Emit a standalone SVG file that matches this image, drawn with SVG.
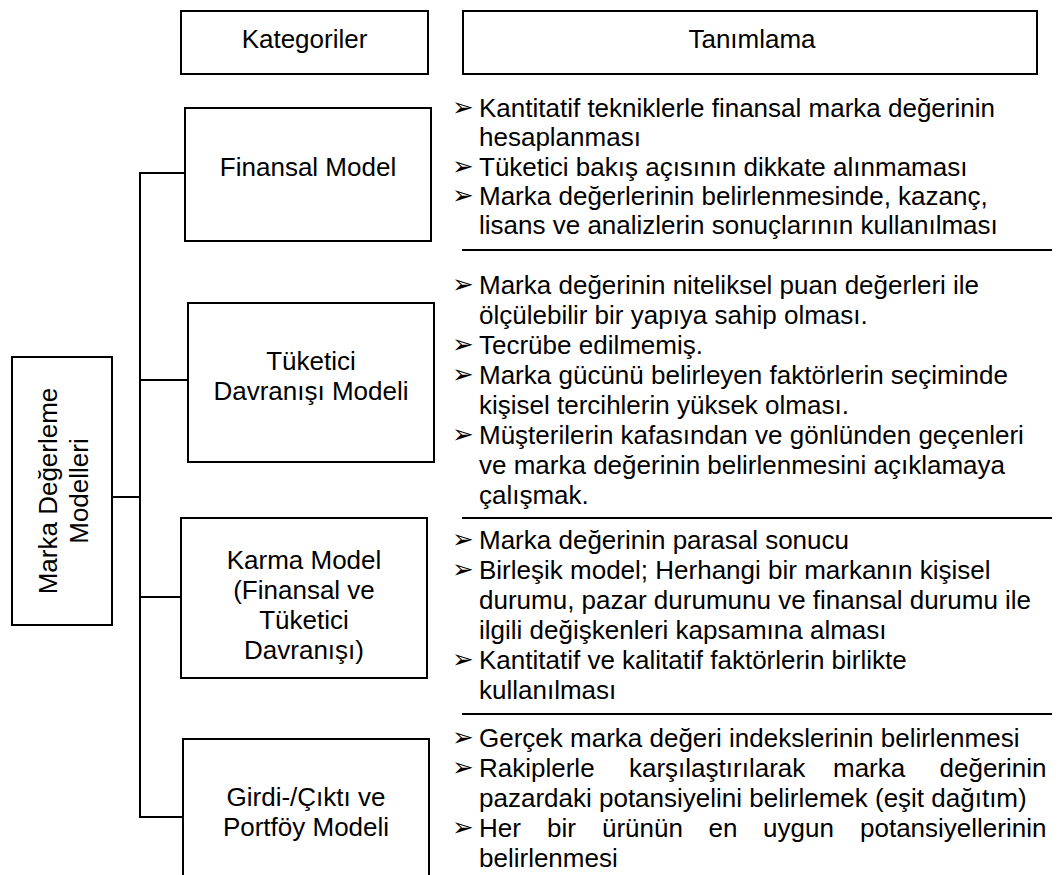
<svg xmlns="http://www.w3.org/2000/svg" width="1062" height="875" viewBox="0 0 1062 875">
  <style>
    .box { fill: #fff; stroke: #000; stroke-width: 2; }
    .wire { fill: none; stroke: #000; stroke-width: 2; }
    .rule { stroke: #000; stroke-width: 2.2; }
    text { font-family: "Liberation Sans", Arial, sans-serif; font-size: 26px; fill: #000; }
    .c { text-anchor: middle; }
    .b { font-family: "DejaVu Sans", sans-serif; font-size: 26px; }
  </style>
  <rect width="1062" height="875" fill="#fff"/>

  <!-- tree connectors -->
  <g id="connectors">
    <path class="wire" d="M112,497 H140"/>
    <path class="wire" d="M185,173 H140 V817 H183"/>
    <path class="wire" d="M140,380 H188"/>
    <path class="wire" d="M140,597 H181"/>
  </g>

  <!-- column headers -->
  <g id="header-kategoriler">
    <rect class="box" x="181" y="11" width="247" height="63"/>
    <text class="c" x="304.5" y="48">Kategoriler</text>
  </g>
  <g id="header-tanimlama">
    <rect class="box" x="463" y="11" width="574" height="63"/>
    <text class="c" x="752" y="48">Tanımlama</text>
  </g>

  <!-- root -->
  <g id="node-root">
    <rect class="box" x="12" y="357" width="100" height="268"/>
    <text class="c" transform="translate(57,491) rotate(-90)">Marka Değerleme</text>
    <text class="c" transform="translate(88,491) rotate(-90)">Modelleri</text>
  </g>

  <!-- categories -->
  <g id="node-finansal">
    <rect class="box" x="185" y="108" width="246" height="133"/>
    <text class="c" x="308" y="176">Finansal Model</text>
  </g>
  <g id="node-tuketici">
    <rect class="box" x="188" y="303" width="246" height="159"/>
    <text class="c" x="311" y="370">Tüketici</text>
    <text class="c" x="311" y="400">Davranışı Modeli</text>
  </g>
  <g id="node-karma">
    <rect class="box" x="181" y="518" width="246" height="160"/>
    <text class="c" x="304" y="569">Karma Model</text>
    <text class="c" x="304" y="599">(Finansal ve</text>
    <text class="c" x="304" y="629">Tüketici</text>
    <text class="c" x="304" y="659">Davranışı)</text>
  </g>
  <g id="node-girdi">
    <rect class="box" x="183" y="739" width="246" height="160"/>
    <text class="c" x="306" y="806">Girdi-/Çıktı ve</text>
    <text class="c" x="306" y="836">Portföy Modeli</text>
  </g>

  <!-- descriptions -->
  <g id="desc-finansal">
    <text class="b" x="452" y="116">➢</text>
    <text x="479" y="117">Kantitatif tekniklerle finansal marka değerinin</text>
    <text x="479" y="146">hesaplanması</text>
    <text class="b" x="452" y="175">➢</text>
    <text x="479" y="176">Tüketici bakış açısının dikkate alınmaması</text>
    <text class="b" x="452" y="204">➢</text>
    <text x="479" y="205">Marka değerlerinin belirlenmesinde, kazanç,</text>
    <text x="479" y="234">lisans ve analizlerin sonuçlarının kullanılması</text>
    <line class="rule" x1="462" y1="250" x2="1052" y2="250"/>
  </g>

  <g id="desc-tuketici">
    <text class="b" x="452" y="293">➢</text>
    <text x="479" y="294">Marka değerinin niteliksel puan değerleri ile</text>
    <text x="479" y="324">ölçülebilir bir yapıya sahip olması.</text>
    <text class="b" x="452" y="353">➢</text>
    <text x="479" y="354">Tecrübe edilmemiş.</text>
    <text class="b" x="452" y="383">➢</text>
    <text x="479" y="384">Marka gücünü belirleyen faktörlerin seçiminde</text>
    <text x="479" y="414">kişisel tercihlerin yüksek olması.</text>
    <text class="b" x="452" y="443">➢</text>
    <text x="479" y="444">Müşterilerin kafasından ve gönlünden geçenleri</text>
    <text x="479" y="474">ve marka değerinin belirlenmesini açıklamaya</text>
    <text x="479" y="504">çalışmak.</text>
    <line class="rule" x1="462" y1="518" x2="1052" y2="518"/>
  </g>

  <g id="desc-karma">
    <text class="b" x="452" y="548">➢</text>
    <text x="479" y="549">Marka değerinin parasal sonucu</text>
    <text class="b" x="452" y="578">➢</text>
    <text x="479" y="579">Birleşik model; Herhangi bir markanın kişisel</text>
    <text x="479" y="609">durumu, pazar durumunu ve finansal durumu ile</text>
    <text x="479" y="639">ilgili değişkenleri kapsamına alması</text>
    <text class="b" x="452" y="668">➢</text>
    <text x="479" y="669">Kantitatif ve kalitatif faktörlerin birlikte</text>
    <text x="479" y="699">kullanılması</text>
    <line class="rule" x1="462" y1="714" x2="1052" y2="714"/>
  </g>

  <g id="desc-girdi">
    <text class="b" x="452" y="746">➢</text>
    <text x="479" y="747">Gerçek marka değeri indekslerinin belirlenmesi</text>
    <text class="b" x="452" y="776">➢</text>
    <text y="777"><tspan x="479">Rakiplerle</tspan><tspan x="629">karşılaştırılarak</tspan><tspan x="833">marka</tspan><tspan x="939.5">değerinin</tspan></text>
    <text x="479" y="807">pazardaki potansiyelini belirlemek (eşit dağıtım)</text>
    <text class="b" x="452" y="836">➢</text>
    <text y="837"><tspan x="479">Her</tspan><tspan x="547">bir</tspan><tspan x="602">ürünün</tspan><tspan x="708.5">en</tspan><tspan x="763">uygun</tspan><tspan x="860">potansiyellerinin</tspan></text>
    <text x="479" y="867">belirlenmesi</text>
  </g>
</svg>
